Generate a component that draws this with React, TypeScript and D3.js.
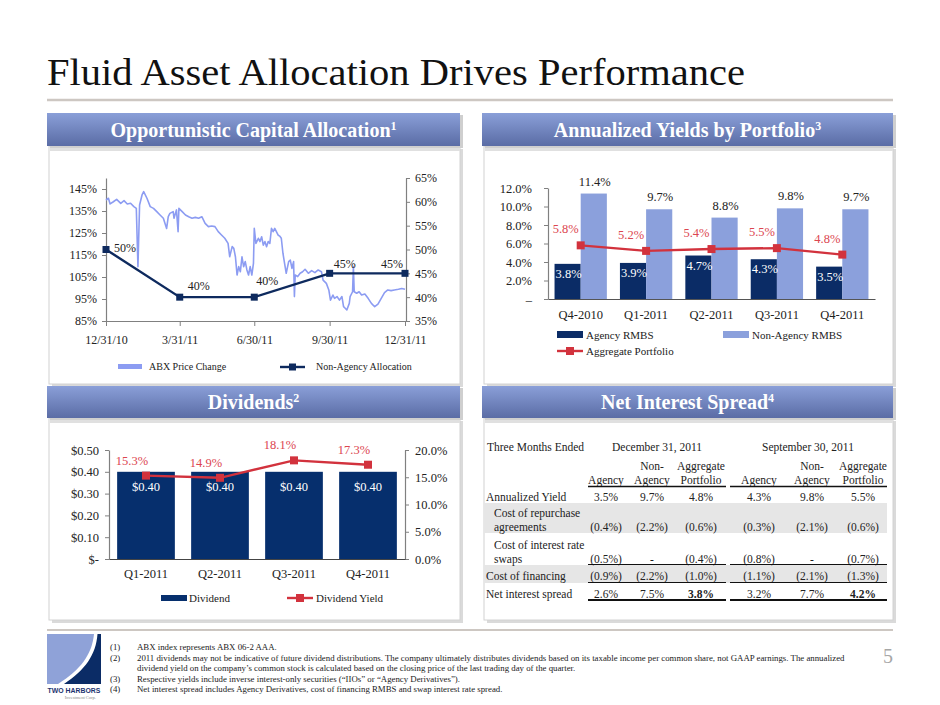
import { useEffect, useRef } from 'react'
import * as d3 from 'd3'

const SERIF = '"Liberation Serif", "Times New Roman", serif'
const SANS = '"Liberation Sans", Arial, sans-serif'

// Opportunistic Capital Allocation
const quarterLabels = ['12/31/10', '3/31/11', '6/30/11', '9/30/11', '12/31/11']
const quarterDays = [0, 90, 181, 273, 365]
const allocation = [50, 40, 40, 45, 45]
const abxTicks = [85, 95, 105, 115, 125, 135, 145]
const allocTicks = [35, 40, 45, 50, 55, 60, 65]
// ABX price change (day of year, % of par)
const abxDays = [
  0, 3, 5, 9, 13, 18, 22, 26, 30, 34, 37, 39, 41, 44, 46, 50, 54, 58, 62, 66,
  70, 74, 76, 78, 82, 83, 86, 88, 89, 93, 97, 101, 105, 109, 113, 117, 121, 125, 129, 133,
  137, 141, 145, 149, 151, 154, 156, 158, 160, 162, 164, 166, 168, 170, 172, 174, 176, 178, 180, 181,
  183, 186, 188, 190, 192, 194, 196, 198, 200, 202, 204, 206, 208, 210, 212, 214, 216, 218, 220, 223,
  225, 227, 229, 230, 231, 234, 237, 240, 243, 247, 251, 255, 259, 263, 265, 269, 272, 274, 277, 279,
  282, 285, 288, 290, 292, 294, 297, 298, 301, 302, 303, 306, 309, 312, 316, 320, 324, 328, 332, 336,
  340, 344, 348, 352, 357, 361, 365
]
const abxValues = [
  140.0, 140.8, 138.2, 139.2, 140.3, 138.5, 139.7, 138.2, 138.5, 137.0, 136.2, 109.7, 137.7, 142.3, 143.8, 140.8, 137.0, 136.2, 134.7, 133.2,
  131.7, 127.1, 132.4, 133.9, 134.7, 131.7, 135.5, 125.6, 136.2, 134.7, 133.2, 132.4, 131.7, 132.1, 131.7, 132.4, 129.4, 127.9, 128.2, 127.9,
  125.6, 124.1, 122.6, 120.3, 114.2, 118.8, 118.0, 114.2, 105.9, 109.7, 107.4, 114.2, 109.7, 112.0, 108.2, 105.9, 109.7, 105.9, 111.2, 127.1,
  120.3, 122.6, 121.1, 123.3, 119.5, 121.1, 118.8, 121.1, 120.3, 127.1, 125.6, 127.1, 125.6, 124.1, 123.6, 122.6, 115.8, 111.2, 106.7, 112.0,
  112.7, 108.9, 112.0, 96.1, 105.9, 105.2, 106.7, 107.4, 108.5, 106.7, 107.9, 107.0, 108.2, 107.4, 103.6, 102.1, 99.1, 94.5, 96.8, 95.3,
  96.1, 94.5, 96.1, 91.5, 90.8, 90.0, 93.0, 96.1, 98.3, 109.7, 98.3, 97.6, 98.3, 96.8, 97.3, 95.3, 93.0, 91.5, 92.7, 95.3,
  97.9, 99.1, 98.8, 99.1, 99.4, 99.8, 99.4
]

// Annualized Yields by Portfolio
const yieldQuarters = ['Q4-2010', 'Q1-2011', 'Q2-2011', 'Q3-2011', 'Q4-2011']
const agencyYield = [3.8, 3.9, 4.7, 4.3, 3.5]
const nonAgencyYield = [11.4, 9.7, 8.8, 9.8, 9.7]
const aggregateYield = [5.8, 5.2, 5.4, 5.5, 4.8]
const yieldTicks = [0, 2, 4, 6, 8, 10, 12]

// Dividends
const divQuarters = ['Q1-2011', 'Q2-2011', 'Q3-2011', 'Q4-2011']
const dividend = [0.4, 0.4, 0.4, 0.4]
const dividendYield = [15.3, 14.9, 18.1, 17.3]
const dividendTicks = [0, 0.1, 0.2, 0.3, 0.4, 0.5]
const divYieldTicks = [0, 5, 10, 15, 20]

// Net Interest Spread (null = "-")
const spreadRows = [
  ['Annualized Yield'],
  ['Cost of repurchase', 'agreements'],
  ['Cost of interest rate', 'swaps'],
  ['Cost of financing'],
  ['Net interest spread']
]
const decAgency = [3.5, -0.4, -0.5, -0.9, 2.6]
const decNonAgency = [9.7, -2.2, null, -2.2, 7.5]
const decAggregate = [4.8, -0.6, -0.4, -1.0, 3.8]
const sepAgency = [4.3, -0.3, -0.8, -1.1, 3.2]
const sepNonAgency = [9.8, -2.1, null, -2.1, 7.7]
const sepAggregate = [5.5, -0.6, -0.7, -1.3, 4.2]

const footnotes = [
  ['(1)', 'ABX index represents ABX 06-2 AAA.'],
  ['(2)', '2011 dividends may not be indicative of future dividend distributions. The company ultimately distributes dividends based on its taxable income per common share, not GAAP earnings. The annualized'],
  ['', 'dividend yield on the company\u2019s common stock is calculated based on the closing price of the last trading day of the quarter.'],
  ['(3)', 'Respective yields include inverse interest-only securities (\u201cIIOs\u201d or \u201cAgency Derivatives\u201d).'],
  ['(4)', 'Net interest spread includes Agency Derivatives, cost of financing RMBS and swap interest rate spread.']
]

const NAVY = '#0b2c66'
const LIGHT = '#8ba0dc'
const RED = '#d2323d'
const RED_TEXT = '#dc4650'
const AXIS = '#808080'
const INK = '#222'

type Sel = d3.Selection<any, unknown, null, undefined>

function styleAxis(sel: Sel, size = 12) {
  sel.attr('font-family', SERIF).attr('font-size', size)
  sel.select('.domain').attr('stroke', AXIS).attr('stroke-width', 1.2)
  sel.selectAll('.tick line').attr('stroke', AXIS)
  sel.selectAll('.tick text').attr('fill', INK)
}

function panel(svg: Sel, x: number, y: number, w: number, hh: number, bh: number, title: string, sup: string) {
  const g = svg.append('g')
  g.append('rect').attr('x', x + 5).attr('y', y + hh + 3).attr('width', w - 2).attr('height', bh)
    .attr('fill', '#dadada')
  g.append('rect').attr('x', x + 2).attr('y', y + hh).attr('width', w - 2).attr('height', bh)
    .attr('fill', '#fff').attr('stroke', '#d2d2d2')
  g.append('rect').attr('x', x + 3).attr('y', y + hh).attr('width', w - 3).attr('height', 5)
    .attr('fill', '#e0e0e0')
  g.append('rect').attr('x', x + 3).attr('y', y + 2).attr('width', w).attr('height', hh)
    .attr('fill', '#cfcfcf')
  g.append('rect').attr('x', x).attr('y', y).attr('width', w).attr('height', hh)
    .attr('fill', 'url(#hdr)')
  const t = g.append('text').attr('x', x + w / 2).attr('y', y + hh / 2 + 7)
    .attr('text-anchor', 'middle').attr('font-family', SERIF).attr('font-size', 20)
    .attr('font-weight', 'bold').attr('fill', '#fff').text(title)
  t.append('tspan').attr('font-size', 12).attr('dy', -7).text(sup)
}

function drawAllocation(svg: Sel) {
  const x = d3.scaleLinear().domain([0, 365]).range([106, 405])
  const yL = d3.scaleLinear().domain([85, 150]).range([321, 178])
  const yR = d3.scaleLinear().domain([35, 65]).range([321, 178])
  const g = svg.append('g')

  g.append('g').attr('transform', 'translate(106,0)')
    .call(d3.axisLeft(yL).tickValues(abxTicks).tickSize(4).tickSizeOuter(0).tickPadding(5).tickFormat(d => `${d}%`))
    .call(styleAxis)
  g.append('g').attr('transform', 'translate(406,0)')
    .call(d3.axisRight(yR).tickValues(allocTicks).tickSize(4).tickSizeOuter(0).tickPadding(5).tickFormat(d => `${d}%`))
    .call(styleAxis)
  g.append('g').attr('transform', 'translate(0,321)')
    .call(d3.axisBottom(x).tickValues(quarterDays).tickSize(5).tickSizeOuter(0).tickPadding(9)
      .tickFormat((_, i) => quarterLabels[i]))
    .call(styleAxis)

  const abxLine = d3.line<number>().x((_, i) => x(abxDays[i])).y(d => yL(d))
  g.append('path').datum(abxValues).attr('d', abxLine).attr('fill', 'none')
    .attr('stroke', '#8c9cf2').attr('stroke-width', 1.6).attr('stroke-linejoin', 'round')

  const allocLine = d3.line<number>().x((_, i) => x(quarterDays[i])).y(d => yR(d))
  g.append('path').datum(allocation).attr('d', allocLine).attr('fill', 'none')
    .attr('stroke', '#0e2a5e').attr('stroke-width', 2.4)
  g.selectAll('.am').data(allocation).enter().append('rect')
    .attr('x', (_, i) => x(quarterDays[i]) - 3.5).attr('y', d => yR(d) - 3.5)
    .attr('width', 7).attr('height', 7).attr('fill', '#0e2a5e')
  const off = [[19, 2], [19, -7], [13, -12], [15, -5], [-13, -5]]
  g.selectAll('.al').data(allocation).enter().append('text')
    .attr('x', (_, i) => x(quarterDays[i]) + off[i][0]).attr('y', (d, i) => yR(d) + off[i][1])
    .attr('text-anchor', 'middle').attr('font-family', SERIF).attr('font-size', 12).attr('fill', INK)
    .text(d => `${d}%`)

  // legend
  const lg = g.append('g').attr('font-family', SERIF).attr('font-size', 10).attr('fill', INK)
  lg.append('rect').attr('x', 118).attr('y', 364).attr('width', 24).attr('height', 5).attr('fill', '#8c9cf2')
  lg.append('text').attr('x', 149).attr('y', 370).text('ABX Price Change')
  lg.append('line').attr('x1', 280).attr('x2', 305).attr('y1', 367).attr('y2', 367)
    .attr('stroke', '#0e2a5e').attr('stroke-width', 2.4)
  lg.append('rect').attr('x', 289).attr('y', 363.5).attr('width', 7).attr('height', 7).attr('fill', '#0e2a5e')
  lg.append('text').attr('x', 316).attr('y', 370).text('Non-Agency Allocation')
}

function drawYields(svg: Sel) {
  const x = d3.scaleBand().domain(yieldQuarters).range([548, 875]).paddingInner(0.2).paddingOuter(0.1)
  const y = d3.scaleLinear().domain([0, 12]).range([299, 188])
  const bw = x.bandwidth() / 2
  const g = svg.append('g')

  g.append('g').attr('transform', 'translate(548,0)')
    .call(d3.axisLeft(y).tickValues(yieldTicks).tickSize(4).tickSizeOuter(0).tickPadding(12)
      .tickFormat(d => (+d === 0 ? '\u2013' : `${(+d).toFixed(1)}%`)))
    .call(styleAxis, 12.5)

  g.selectAll('.ag').data(agencyYield).enter().append('rect')
    .attr('x', (_, i) => x(yieldQuarters[i])!).attr('y', d => y(d))
    .attr('width', bw).attr('height', d => y(0) - y(d)).attr('fill', NAVY)
  g.selectAll('.na').data(nonAgencyYield).enter().append('rect')
    .attr('x', (_, i) => x(yieldQuarters[i])! + bw).attr('y', d => y(d))
    .attr('width', bw).attr('height', d => y(0) - y(d)).attr('fill', LIGHT)

  g.append('g').attr('transform', 'translate(0,299)')
    .call(d3.axisBottom(x).tickSize(0).tickSizeOuter(0).tickPadding(11.5))
    .call(styleAxis, 12.5)
    .call(a => a.select('.domain').attr('stroke', '#555'))

  const cx = (i: number) => x(yieldQuarters[i])! + bw
  const line = d3.line<number>().x((_, i) => cx(i)).y(d => y(d))
  g.append('path').datum(aggregateYield).attr('d', line).attr('fill', 'none')
    .attr('stroke', RED).attr('stroke-width', 2.4)
  g.selectAll('.am').data(aggregateYield).enter().append('rect')
    .attr('x', (_, i) => cx(i) - 4).attr('y', d => y(d) - 4).attr('width', 8).attr('height', 8).attr('fill', RED)

  const lab = g.append('g').attr('font-family', SERIF).attr('font-size', 12.5).attr('text-anchor', 'middle')
  lab.selectAll('.agl').data(agencyYield).enter().append('text')
    .attr('x', (_, i) => x(yieldQuarters[i])! + bw / 2 + 1).attr('y', d => y(d) + 14)
    .attr('fill', '#fff').text(d => `${d.toFixed(1)}%`)
  lab.selectAll('.nal').data(nonAgencyYield).enter().append('text')
    .attr('x', (_, i) => x(yieldQuarters[i])! + bw * 1.5 + 1).attr('y', d => y(d) - 8)
    .attr('fill', INK).text(d => `${d.toFixed(1)}%`)
  lab.selectAll('.aggl').data(aggregateYield).enter().append('text')
    .attr('x', (_, i) => cx(i) - 15).attr('y', d => y(d) - 12)
    .attr('fill', RED_TEXT).text(d => `${d.toFixed(1)}%`)

  const lg = g.append('g').attr('font-family', SERIF).attr('font-size', 11).attr('fill', INK)
  lg.append('rect').attr('x', 557).attr('y', 331).attr('width', 26).attr('height', 7).attr('fill', NAVY)
  lg.append('text').attr('x', 586).attr('y', 339).text('Agency RMBS')
  lg.append('rect').attr('x', 723).attr('y', 331).attr('width', 26).attr('height', 7).attr('fill', LIGHT)
  lg.append('text').attr('x', 752).attr('y', 339).text('Non-Agency RMBS')
  lg.append('line').attr('x1', 557).attr('x2', 583).attr('y1', 351).attr('y2', 351)
    .attr('stroke', RED).attr('stroke-width', 2.4)
  lg.append('rect').attr('x', 566).attr('y', 347).attr('width', 8).attr('height', 8).attr('fill', RED)
  lg.append('text').attr('x', 586).attr('y', 355).text('Aggregate Portfolio')
}

function drawDividends(svg: Sel) {
  const x = d3.scaleBand().domain(divQuarters).range([109, 405]).paddingInner(0.22).paddingOuter(0.11)
  const yL = d3.scaleLinear().domain([0, 0.5]).range([559, 450])
  const yR = d3.scaleLinear().domain([0, 20]).range([559, 450])
  const g = svg.append('g')

  g.append('g').attr('transform', 'translate(109,0)')
    .call(d3.axisLeft(yL).tickValues(dividendTicks).tickSize(4).tickSizeOuter(0).tickPadding(6)
      .tickFormat(d => (+d === 0 ? '$-' : `$${(+d).toFixed(2)}`)))
    .call(styleAxis, 12.5)
  g.append('g').attr('transform', 'translate(405,0)')
    .call(d3.axisRight(yR).tickValues(divYieldTicks).tickSize(4).tickSizeOuter(0).tickPadding(6)
      .tickFormat(d => `${(+d).toFixed(1)}%`))
    .call(styleAxis, 12.5)

  g.selectAll('.db').data(dividend).enter().append('rect')
    .attr('x', (_, i) => x(divQuarters[i])!).attr('y', d => yL(d))
    .attr('width', x.bandwidth()).attr('height', d => yL(0) - yL(d)).attr('fill', '#062f6d')

  g.append('g').attr('transform', 'translate(0,559)')
    .call(d3.axisBottom(x).tickSize(0).tickSizeOuter(0).tickPadding(10.5))
    .call(styleAxis, 12.5)
    .call(a => a.select('.domain').attr('stroke', '#444'))

  const cx = (i: number) => x(divQuarters[i])! + x.bandwidth() / 2
  g.selectAll('.dl').data(dividend).enter().append('text')
    .attr('x', (_, i) => cx(i)).attr('y', d => yL(d) + 19)
    .attr('text-anchor', 'middle').attr('font-family', SERIF).attr('font-size', 12.5).attr('fill', '#fff')
    .text(d => `$${d.toFixed(2)}`)

  const line = d3.line<number>().x((_, i) => cx(i)).y(d => yR(d))
  g.append('path').datum(dividendYield).attr('d', line).attr('fill', 'none')
    .attr('stroke', RED).attr('stroke-width', 2.4)
  g.selectAll('.ym').data(dividendYield).enter().append('rect')
    .attr('x', (_, i) => cx(i) - 4).attr('y', d => yR(d) - 4).attr('width', 8).attr('height', 8).attr('fill', RED)
  g.selectAll('.yl').data(dividendYield).enter().append('text')
    .attr('x', (_, i) => cx(i) - 14).attr('y', d => yR(d) - 11)
    .attr('text-anchor', 'middle').attr('font-family', SERIF).attr('font-size', 12.5).attr('fill', RED_TEXT)
    .text(d => `${d.toFixed(1)}%`)

  const lg = g.append('g').attr('font-family', SERIF).attr('font-size', 11).attr('fill', INK)
  lg.append('rect').attr('x', 161).attr('y', 595).attr('width', 26).attr('height', 6).attr('fill', '#062f6d')
  lg.append('text').attr('x', 189).attr('y', 602).text('Dividend')
  lg.append('line').attr('x1', 287).attr('x2', 313).attr('y1', 598).attr('y2', 598)
    .attr('stroke', RED).attr('stroke-width', 2.4)
  lg.append('rect').attr('x', 296).attr('y', 594).attr('width', 8).attr('height', 8).attr('fill', RED)
  lg.append('text').attr('x', 316).attr('y', 602).text('Dividend Yield')
}

function drawSpread(svg: Sel) {
  const g = svg.append('g').attr('font-family', SERIF).attr('font-size', 11.5).attr('fill', INK)
  const colX = [606, 652, 701, 759, 812, 863]
  const cols = [decAgency, decNonAgency, decAggregate, sepAgency, sepNonAgency, sepAggregate]
  const fmt = (v: number | null) => (v === null ? '-' : v < 0 ? `(${(-v).toFixed(1)}%)` : `${v.toFixed(1)}%`)

  // shaded rows
  g.append('rect').attr('x', 484).attr('y', 503).attr('width', 403).attr('height', 30).attr('fill', '#e6e6e6')
  g.append('rect').attr('x', 484).attr('y', 565).attr('width', 403).attr('height', 18).attr('fill', '#e6e6e6')

  g.append('text').attr('x', 487).attr('y', 451).text('Three Months Ended')
  g.append('text').attr('x', 657).attr('y', 451).attr('text-anchor', 'middle').text('December 31, 2011')
  g.append('text').attr('x', 808).attr('y', 451).attr('text-anchor', 'middle').text('September 30, 2011')

  const head = [['', 'Agency'], ['Non-', 'Agency'], ['Aggregate', 'Portfolio']]
  colX.forEach((cx, i) => {
    const h = head[i % 3]
    if (h[0]) g.append('text').attr('x', cx).attr('y', 470).attr('text-anchor', 'middle').text(h[0])
    g.append('text').attr('x', cx).attr('y', 483.5).attr('text-anchor', 'middle').text(h[1])
  })

  const rowY = [501, 531, 562.5, 580, 597.5]
  spreadRows.forEach((lines, r) => {
    const indent = r === 1 || r === 2 ? 494 : 486
    lines.forEach((t, k) => {
      g.append('text').attr('x', indent).attr('y', rowY[r] - (lines.length - 1 - k) * 14).text(t)
    })
    cols.forEach((col, c) => {
      g.append('text').attr('x', colX[c]).attr('y', rowY[r]).attr('text-anchor', 'middle')
        .attr('font-weight', r === 4 && c % 3 === 2 ? 'bold' : 'normal').text(fmt(col[r]))
    })
  })

  const rules: [number, number][] = [[486.5, 1.5], [564.5, 1.2], [582.5, 1.2], [600, 2]]
  rules.forEach(([yy, sw]) => {
    g.append('line').attr('x1', 588).attr('x2', 726).attr('y1', yy).attr('y2', yy).attr('stroke', '#111').attr('stroke-width', sw)
    g.append('line').attr('x1', 730).attr('x2', 887).attr('y1', yy).attr('y2', yy).attr('stroke', '#111').attr('stroke-width', sw)
  })
}

function drawFooter(svg: Sel) {
  const g = svg.append('g')
  g.append('line').attr('x1', 47).attr('x2', 893).attr('y1', 630).attr('y2', 630)
    .attr('stroke', '#cdc7c2').attr('stroke-width', 2)
  // logo
  g.append('path').attr('d', 'M47,634 L94,634 C92,655 80,670 58,684 L47,684 Z').attr('fill', '#8fa2d8')
  g.append('path').attr('d', 'M101,634 L101,684 L64,684 C85,670 96,655 97.5,634 Z').attr('fill', NAVY)
  g.append('text').attr('x', 74).attr('y', 692.5).attr('text-anchor', 'middle').attr('font-family', SANS)
    .attr('font-weight', 'bold').attr('font-size', 6.9)
    .attr('fill', '#1d3470').text('TWO HARBORS')
  g.append('text').attr('x', 96).attr('y', 699).attr('text-anchor', 'end').attr('font-family', SERIF)
    .attr('font-size', 4.5).attr('fill', '#8a8a8a').text('Investment Corp.')

  const fn = g.append('g').attr('font-family', SERIF).attr('font-size', 8.8).attr('fill', INK)
  footnotes.forEach(([n, t], i) => {
    const yy = 650 + i * 10.5
    if (n) fn.append('text').attr('x', 110).attr('y', yy).text(n)
    fn.append('text').attr('x', 137).attr('y', yy).text(t)
  })
  g.append('text').attr('x', 893).attr('y', 663).attr('text-anchor', 'end').attr('font-family', SERIF)
    .attr('font-size', 20).attr('fill', '#a6a6a6').text('5')
}

export default function App() {
  const svgRef = useRef<SVGSVGElement>(null)

  useEffect(() => {
    if (!svgRef.current) return
    const svg = d3.select(svgRef.current) as Sel
    svg.selectAll('*').remove()

    const grad = svg.append('defs').append('linearGradient').attr('id', 'hdr')
      .attr('x1', 0).attr('y1', 0).attr('x2', 0).attr('y2', 1)
    grad.append('stop').attr('offset', '0%').attr('stop-color', '#8a9fd8')
    grad.append('stop').attr('offset', '100%').attr('stop-color', '#5a6ca5')

    svg.append('rect').attr('width', 940).attr('height', 705).attr('fill', '#fff')

    svg.append('text').attr('x', 47).attr('y', 85).attr('font-family', SERIF).attr('font-size', 38)
      .attr('textLength', 698).attr('lengthAdjust', 'spacingAndGlyphs').attr('fill', '#111')
      .text('Fluid Asset Allocation Drives Performance')
    svg.append('line').attr('x1', 47).attr('x2', 893).attr('y1', 100).attr('y2', 100)
      .attr('stroke', '#cdc7c2').attr('stroke-width', 2.5)

    panel(svg, 47, 113, 413, 33, 238, 'Opportunistic Capital Allocation', '1')
    panel(svg, 482, 113, 411, 33, 238, 'Annualized Yields by Portfolio', '3')
    panel(svg, 47, 386, 413, 32, 202, 'Dividends', '2')
    panel(svg, 482, 386, 411, 32, 202, 'Net Interest Spread', '4')

    drawAllocation(svg)
    drawYields(svg)
    drawDividends(svg)
    drawSpread(svg)
    drawFooter(svg)
  }, [])

  return <svg ref={svgRef} width={940} height={705} style={{ position: 'absolute', left: 0, top: 0 }} />
}
